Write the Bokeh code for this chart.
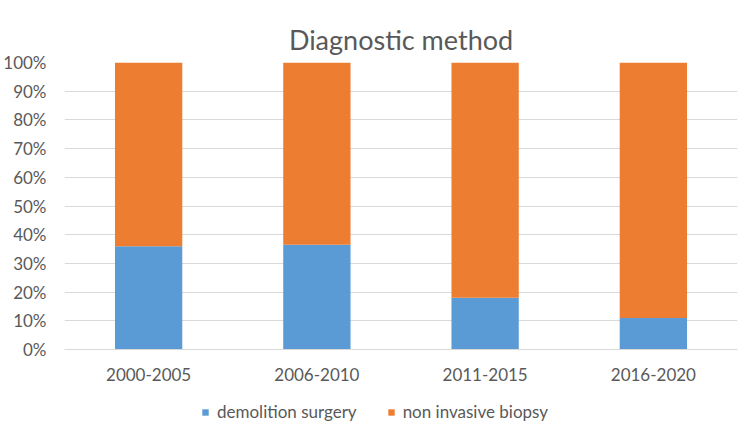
from bokeh.plotting import figure
from bokeh.layouts import column
from bokeh.models import Range1d, FactorRange, NumeralTickFormatter, FixedTicker, Legend, LegendItem
from bokeh.embed import file_html
from bokeh.resources import INLINE

periods = ["2000-2005", "2006-2010", "2011-2015", "2016-2020"]
demolition_surgery = [0.36, 0.365, 0.18, 0.11]
non_invasive_biopsy = [0.64, 0.635, 0.82, 0.89]
y_ticks = [0, 0.1, 0.2, 0.3, 0.4, 0.5, 0.6, 0.7, 0.8, 0.9, 1.0]
series_names = ["demolition surgery", "non invasive biopsy"]
series_colors = ["#5B9BD5", "#ED7D31"]

FONT = "Lato"
GRAY = "#595959"
FS = "17px"

p = figure(width=748, height=390, x_range=FactorRange(*periods, range_padding=0),
           y_range=Range1d(0, 1), output_backend="svg", toolbar_location=None,
           title="Diagnostic method")
p.min_border_left = 63
p.min_border_right = 11
p.min_border_top = 62
p.min_border_bottom = 41
p.outline_line_color = None

p.title.align = "center"
p.title.vertical_align = "top"
p.title.text_font = FONT
p.title.text_font_size = "27px"
p.title.text_font_style = "normal"
p.title.text_color = GRAY
p.title.standoff = 10

src = dict(periods=periods, ds=demolition_surgery, nib=non_invasive_biopsy)
r = p.vbar_stack(["ds", "nib"], x="periods", width=0.4, source=src,
                 color=series_colors, line_color=None)

p.yaxis.ticker = FixedTicker(ticks=y_ticks)
p.yaxis.formatter = NumeralTickFormatter(format="0%")
p.yaxis.axis_line_color = None
p.yaxis.major_tick_line_color = None
p.yaxis.minor_tick_line_color = None
p.yaxis.major_label_text_font = FONT
p.yaxis.major_label_text_font_size = FS
p.yaxis.major_label_text_color = GRAY
p.yaxis.major_label_standoff = 12

p.xaxis.axis_line_color = "#d9d9d9"
p.xaxis.major_tick_line_color = None
p.xaxis.minor_tick_line_color = None
p.xaxis.major_label_text_font = FONT
p.xaxis.major_label_text_font_size = FS
p.xaxis.major_label_text_color = GRAY
p.xaxis.major_label_standoff = 12

p.xgrid.grid_line_color = None
p.ygrid.grid_line_color = "#d9d9d9"
p.ygrid.ticker = FixedTicker(ticks=y_ticks)

# separate strip for the legend (below the chart); its frame aligns with the chart's
pl = figure(width=748, height=40, x_range=Range1d(0, 1), y_range=Range1d(0, 1),
            output_backend="svg", toolbar_location=None,
            x_axis_type=None, y_axis_type=None)
pl.min_border = 0
pl.outline_line_color = None
pl.xgrid.grid_line_color = None
pl.ygrid.grid_line_color = None
# legend swatches only: one off-range bar per series
dummies = [pl.vbar(x=[-5], top=[-5], bottom=[-6], width=0.1, color=c, line_color=None)
           for c in series_colors]

legend = Legend(items=[LegendItem(label=n, renderers=[d]) for n, d in zip(series_names, dummies)],
                orientation="horizontal", location=(137, 8),
                border_line_color=None, background_fill_alpha=0,
                label_text_font=FONT, label_text_font_size=FS,
                label_text_color=GRAY, glyph_width=8, glyph_height=8,
                spacing=30, label_standoff=8, margin=0, padding=0)
pl.add_layout(legend, "center")

layout = column(p, pl, spacing=0)
open("out.html", "w").write(file_html(layout, INLINE))
